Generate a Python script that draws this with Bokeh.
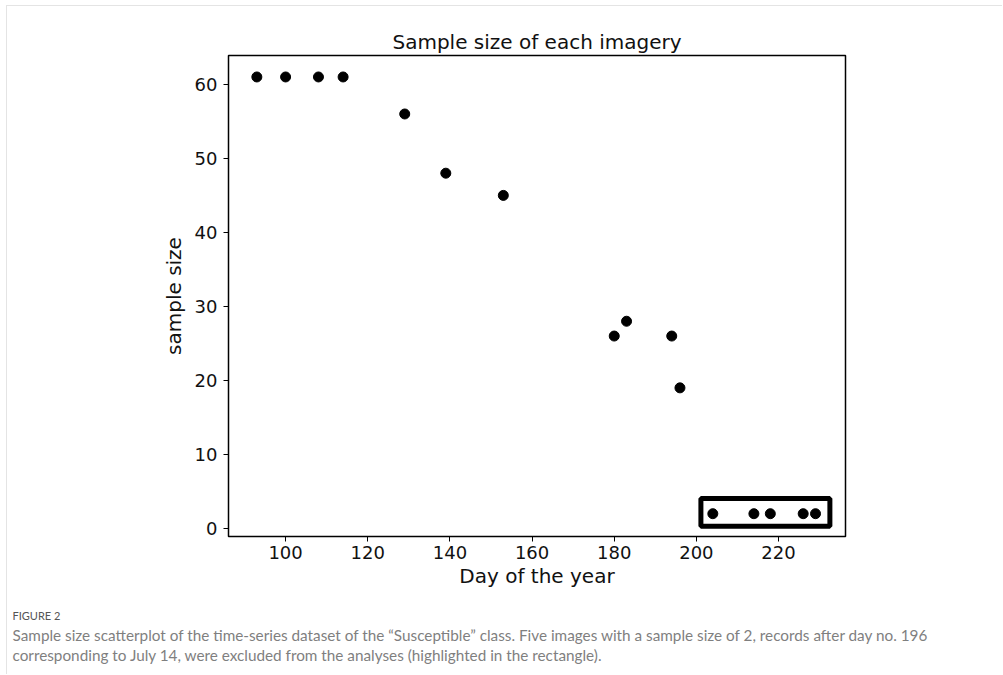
from bokeh.plotting import figure
from bokeh.models import FixedTicker, Title
from bokeh.embed import file_html
from bokeh.resources import INLINE

# Day of year of each image and the number of samples it holds
days = [93, 100, 108, 114, 129, 139, 153, 180, 183, 194, 196, 204, 214, 218, 226, 229]
sizes = [61, 61, 61, 61, 56, 48, 45, 26, 28, 26, 19, 2, 2, 2, 2, 2]

# Excluded records (after day 196), boxed on the chart
box_days = [201.1, 232.5]
box_sizes = [0.3, 4.05]

x_ticks = [100, 120, 140, 160, 180, 200, 220]
y_ticks = [0, 10, 20, 30, 40, 50, 60]

FONT = "DejaVu Sans"
CAP_FONT = "Lato"

p = figure(
    width=996, height=669,
    x_range=(86.1, 236.3), y_range=(-1.08, 63.9),
    output_backend="svg", toolbar_location=None,
    min_border_left=221, min_border_right=158,
    min_border_top=49, min_border_bottom=139,
    title="Sample size of each imagery",
)
p.margin = (5, 0, 0, 6)
p.styles = {"border-top": "1px solid #e4e4e4", "border-left": "1px solid #e4e4e4"}
p.background_fill_color = "white"
p.border_fill_color = "white"
p.grid.visible = False
p.outline_line_color = "black"
p.outline_line_width = 1.5

p.title.align = "center"
p.title.text_font = FONT
p.title.text_font_size = "20px"
p.title.text_font_style = "normal"
p.title.text_color = "#111111"
p.title.standoff = 4

for ax in (p.xaxis, p.yaxis):
    ax.axis_line_color = None
    ax.major_tick_in = 0
    ax.major_tick_out = 5
    ax.major_tick_line_color = "black"
    ax.minor_tick_line_color = None
    ax.major_label_text_font = FONT
    ax.major_label_text_font_size = "18px"
    ax.major_label_text_color = "#111111"
    ax.axis_label_text_font = FONT
    ax.axis_label_text_font_size = "20px"
    ax.axis_label_text_font_style = "normal"
    ax.axis_label_text_color = "#111111"

p.xaxis.ticker = FixedTicker(ticks=x_ticks)
p.yaxis.ticker = FixedTicker(ticks=y_ticks)
p.xaxis.axis_label = "Day of the year"
p.yaxis.axis_label = "sample size"
p.xaxis.major_label_standoff = 4
p.yaxis.major_label_standoff = 6
p.xaxis.axis_label_standoff = 2
p.yaxis.axis_label_standoff = 6

p.scatter(days, sizes, size=10, color="black")

# highlight rectangle around the excluded records
p.quad(left=[box_days[0]], right=[box_days[1]], bottom=[box_sizes[0]], top=[box_sizes[1]],
       fill_color=None, line_color="black", line_width=5)

# figure caption, stacked below the x axis
cap0 = "FIGURE 2"
cap1 = ("Sample size scatterplot of the time-series dataset of the \u201cSusceptible\u201d class. "
        "Five images with a sample size of 2, records after day no. 196")
cap2 = "corresponding to July 14, were excluded from the analyses (highlighted in the rectangle)."
p.add_layout(Title(text=cap0, align="left", offset=-216, text_font=CAP_FONT,
                   text_font_size="11px", text_font_style="normal", text_color="#555555",
                   standoff=3, padding=dict(left=0, right=0, top=15, bottom=0)), "below")
p.add_layout(Title(text=cap1, align="left", offset=-216, text_font=CAP_FONT,
                   text_font_size="15.3px", text_font_style="normal", text_color="#7f7f7f",
                   standoff=0), "below")
p.add_layout(Title(text=cap2, align="left", offset=-216, text_font=CAP_FONT,
                   text_font_size="15.3px", text_font_style="normal", text_color="#7f7f7f",
                   standoff=0), "below")

open("out.html", "w").write(file_html(p, INLINE))
